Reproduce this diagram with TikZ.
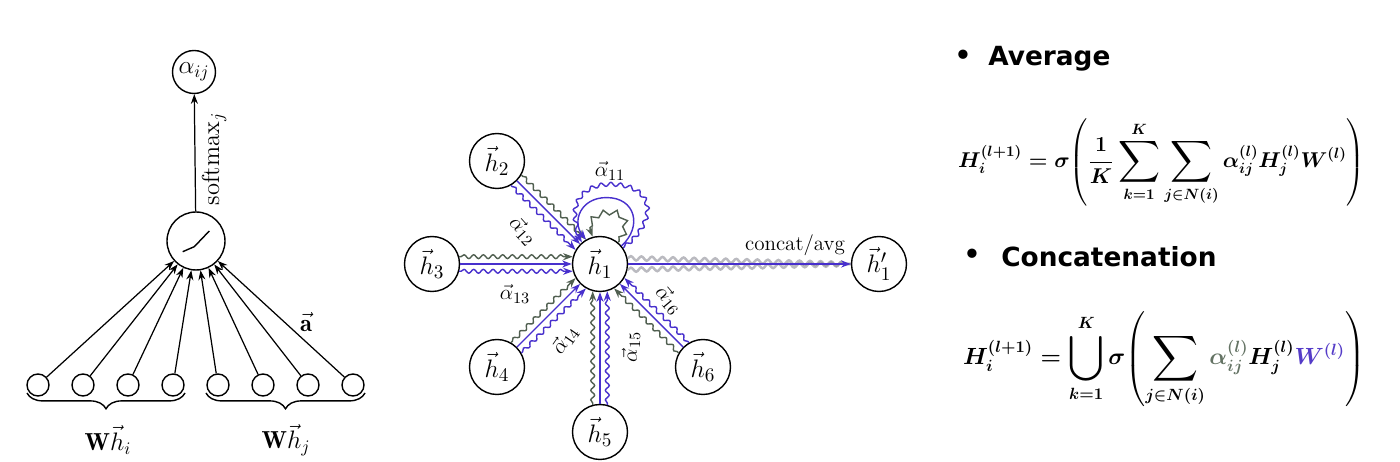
\documentclass[tikz,border=0pt]{standalone}
\usepackage{amsmath,amssymb}
\usepackage{graphicx}
\usepackage{fontspec}
\newfontfamily\headfont{DejaVu Sans}
\usetikzlibrary{arrows.meta,decorations.pathmorphing,decorations.pathreplacing,calc}
\definecolor{gcol}{RGB}{80,95,80}
\definecolor{bcol}{RGB}{72,48,205}
\definecolor{acol}{RGB}{100,115,100}
\definecolor{wcol}{RGB}{85,60,200}
\definecolor{ocol}{RGB}{140,140,150}
\newcommand{\Bsum}{\mathop{\vcenter{\hbox{\scalebox{1.4}{$\displaystyle\sum$}}}}\limits}
\newcommand{\Bcup}{\mathop{\vcenter{\hbox{\scalebox{1.4}{$\displaystyle\bigcup$}}}}\limits}
\tikzset{
  circ/.style={circle, draw, line width=0.8pt, inner sep=0pt},
  inp/.style={circ, minimum size=0.44cm},
  big/.style={circ, minimum size=1.1cm, font=\fontsize{15}{17}\selectfont},
  tip/.style={-{Stealth[length=5.5pt,width=4pt]}},
  arr/.style={tip, line width=0.7pt},
  bline/.style={draw=bcol, line width=0.8pt, tip},
  gwave/.style={draw=gcol, line width=0.8pt, tip, decorate,
    decoration={snake, amplitude=1.1pt, segment length=5.5pt, pre length=1pt, post length=4pt}},
  bwave/.style={gwave, draw=bcol},
  gzig/.style={draw=gcol, line width=0.8pt, tip, decorate,
    decoration={zigzag, amplitude=1.6pt, segment length=7pt, pre length=1pt, post length=4pt}},
  owave/.style={draw=ocol, opacity=0.6, line width=1.4pt, decorate,
    decoration={snake, amplitude=1.2pt, segment length=6pt, post length=2pt}},
  brc/.style={decorate, decoration={brace, amplitude=9pt}, line width=0.8pt},
  head/.style={font=\headfont\bfseries\fontsize{15}{18}\selectfont, inner sep=0pt},
  lab/.style={inner sep=1pt},
  alab/.style={inner sep=1pt, font=\fontsize{13}{15}\selectfont}
}
\begin{document}
\begin{tikzpicture}[x=0.02cm, y=0.02cm, font=\fontsize{14}{16}\selectfont]
\useasboundingbox (0,0) rectangle (1400,462);
\fill[white] (0,0) rectangle (1400,462);

% ---------------- left: attention mechanism ----------------
\node[circ, minimum size=0.86cm] (alpha) at (194,390) {$\alpha_{ij}$};
\node[circ, minimum size=1.16cm] (act) at (196,221) {};
\draw[line width=0.8pt, shift={(act.center)}] (-13.3,-10.7) -- (-1.7,-5.7) -- (13.3,10);
\draw[arr] (act) -- (alpha);
\node[rotate=90, lab] (smx) at (214,303) {$\mathrm{softmax}_j$};
\foreach \i/\x in {1/38,2/83,3/128,4/173,5/218,6/263,7/308,8/353}{
  \node[inp] (in\i) at (\x,77) {};
  \draw[arr] (in\i) -- (act);
}
\draw[brc] (185,69) -- (27,69);
\draw[brc] (365,69) -- (206,69);
\node[lab] (whi) at (108,22) {$\mathbf{W}\vec{h}_i$};
\node[lab] (whj) at (286,22) {$\mathbf{W}\vec{h}_j$};
\node[lab] (avec) at (306,140) {$\vec{\mathbf{a}}$};

% ---------------- middle: multi-head attention ----------------
\node[big] (h1) at (600,198) {$\vec{h}_1$};
\node[big] (h2) at (497,301) {$\vec{h}_2$};
\node[big] (h3) at (432,198) {$\vec{h}_3$};
\node[big] (h4) at (497,95) {$\vec{h}_4$};
\node[big] (h5) at (600,30) {$\vec{h}_5$};
\node[big] (h6) at (703,95) {$\vec{h}_6$};
\node[big] (h1p) at (879,198) {$\vec{h}'_1$};

% h2
\draw[gwave] (h2.-30) -- (h1.120);
\draw[bline] (h2) -- (h1);
\draw[bwave] (h2.-60) -- (h1.150);
% h3
\draw[gwave] (h3.15) -- (h1.165);
\draw[bline] (h3) -- (h1);
\draw[bwave] (h3.-15) -- (h1.195);
% h4
\draw[gwave] (h4.60) -- (h1.210);
\draw[bline] (h4) -- (h1);
\draw[bwave] (h4.30) -- (h1.240);
% h5
\draw[gwave] (h5.105) -- (h1.255);
\draw[bline] (h5) -- (h1);
\draw[bwave] (h5.75) -- (h1.285);
% h6
\draw[gwave] (h6.150) -- (h1.300);
\draw[bline] (h6) -- (h1);
\draw[bwave] (h6.120) -- (h1.330);
% self loops
\draw[gzig] (h1.50) .. controls +(12,14) and +(16,0) .. ++(-7.7,30)
  .. controls +(-15,0) and +(-8,14) .. (h1.105);
\draw[bline] (h1.40) .. controls +(21,19.3) and +(29,0) .. ++(-15,48.3)
  .. controls +(-26,0) and +(-14.25,18.2) .. (h1.120);
\draw[bwave] (h1.35) .. controls +(34,27) and +(44,0) .. ++(-14.5,62)
  .. controls +(-35,0) and +(-18,27) .. (h1.130);
% output
\draw[owave] (h1.12) -- (h1p.west);
\draw[owave] (h1.-12) -- (h1p.west);
\draw[bline, line width=1.2pt] (h1) -- (h1p);
\node[lab, font=\fontsize{12}{14}\selectfont] (cat) at (795,217) {concat/avg};

% labels
\node[alab] (a11) at (610,291) {$\vec{\alpha}_{11}$};
\node[alab, rotate=-48] (a12) at (523,231) {$\vec{\alpha}_{12}$};
\node[alab] (a13) at (515,168) {$\vec{\alpha}_{13}$};
\node[alab, rotate=55] (a14) at (565,122) {$\vec{\alpha}_{14}$};
\node[alab, rotate=90] (a15) at (631,115) {$\vec{\alpha}_{15}$};
\node[alab, rotate=-50] (a16) at (669,162) {$\vec{\alpha}_{16}$};

% ---------------- right: formulas ----------------
\node[head] (bul1) at (963,405) {•};
\node[head, anchor=base west] (avg) at (988,396) {Average};
\node[inner sep=0pt] (eq1) at (1161.5,300) {\resizebox{8.14cm}{!}{\boldmath$\displaystyle
  H_i^{(l+1)} = \sigma\!\left(\frac{1}{K}\Bsum_{k=1}^{K}\Bsum_{j\in N(i)}\alpha_{ij}^{(l)}H_j^{(l)}W^{(l)}\right)$}};
\node[head] (bul2) at (972,206) {•};
\node[head, anchor=base west] (conc) at (1001,195) {Concatenation};
\node[inner sep=0pt] (eq2) at (1164,103) {\resizebox{8.04cm}{!}{\boldmath$\displaystyle
  H_i^{(l+1)} = \Bcup_{k=1}^{K}\sigma\!\left(\Bsum_{j\in N(i)}{\color{acol}\alpha_{ij}^{(l)}}H_j^{(l)}{\color{wcol}W^{(l)}}\right)$}};
\end{tikzpicture}
\end{document}
